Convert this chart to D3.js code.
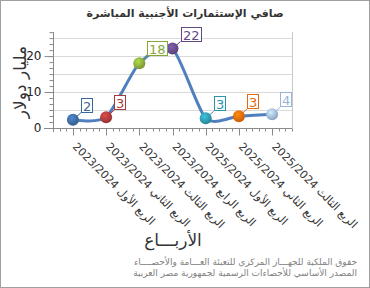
<!DOCTYPE html>
<html>
<head>
<meta charset="utf-8">
<script src="https://cdn.jsdelivr.net/npm/d3@7"></script>
<style>
  body { margin: 0; background: #fff; }
  svg { display: block; font-family: "DejaVu Sans", sans-serif; }
</style>
</head>
<body>
<script>
// data
var quarters = [
  "الربع الأول 2023/2024",
  "الربع الثاني 2023/2024",
  "الربع الثالث 2023/2024",
  "الربع الرابع 2023/2024",
  "الربع الأول 2025/2024",
  "الربع الثاني 2025/2024",
  "الربع الثالث 2025/2024"
];
var values = [2.3, 3.0, 18.0, 22.1, 2.7, 3.3, 3.8];
var valueLabels = ["2", "3", "18", "22", "3", "3", "4"];
var pointColors = ["#3b679c", "#a8393a", "#86a63a", "#634887", "#2c93a8", "#e4690c", "#9bb3d8"];
var yTicks = [0, 10, 20];

var W = 370, H = 288;
var plot = {left: 53, right: 292, top: 32, bottom: 128};

var svg = d3.select("body").append("svg")
    .attr("width", W)
    .attr("height", H);

// outer frame
svg.append("rect")
    .attr("x", 0.5).attr("y", 0.5)
    .attr("width", W - 1).attr("height", H - 1)
    .attr("fill", "#fff")
    .attr("stroke", "#a0a0a0");

var x = d3.scalePoint()
    .domain(d3.range(quarters.length))
    .range([plot.left, plot.right])
    .padding(0.6);

var y = d3.scaleLinear()
    .domain([0, 26.7])
    .range([plot.bottom, plot.top]);

// gridlines every 5
svg.append("g")
    .selectAll("line")
    .data([5, 10, 15, 20, 25])
  .enter().append("line")
    .attr("x1", plot.left).attr("x2", plot.right)
    .attr("y1", function(d) { return Math.round(y(d)) + 0.5; })
    .attr("y2", function(d) { return Math.round(y(d)) + 0.5; })
    .attr("stroke", "#d9d9d9");

// right edge of plot
svg.append("line")
    .attr("x1", plot.right + 0.5).attr("x2", plot.right + 0.5)
    .attr("y1", plot.top).attr("y2", plot.bottom)
    .attr("stroke", "#c8c8c8");

// y axis: minor ticks then major
var yMinor = d3.range(0, 26.7, 5 / 3);
svg.append("g")
    .attr("transform", "translate(" + (plot.left + 0.5) + ",0)")
    .call(d3.axisLeft(y).tickValues(yMinor).tickSize(4).tickFormat(""))
    .call(function(g) {
      g.selectAll("line, path").attr("stroke", "#8a8a8a");
      g.select(".domain").attr("d", "M0," + plot.top + "V" + (plot.bottom + 4));
    });

svg.append("g")
    .attr("transform", "translate(" + (plot.left + 0.5) + ",0)")
    .call(d3.axisLeft(y).tickValues(yTicks).tickSize(9).tickPadding(3))
    .call(function(g) {
      g.select(".domain").remove();
      g.selectAll("line").attr("stroke", "#8a8a8a");
      g.selectAll("text").attr("font-size", 12).attr("fill", "#222")
        .attr("font-family", "DejaVu Sans, sans-serif");
    });

// x axis
var step = x.step();
var xMinor = [];
for (var k = 0; k < quarters.length; k++) {
  for (var m = -2; m <= 2; m++) {
    if (m !== 0) xMinor.push(x(k) + m * step / 5);
  }
}
xMinor.push(x(quarters.length - 1) + 3 * step / 5);

var xAxis = svg.append("g")
    .attr("transform", "translate(0," + (plot.bottom + 0.5) + ")");

xAxis.append("line")
    .attr("x1", plot.left - 9).attr("x2", plot.right)
    .attr("stroke", "#8a8a8a");

xAxis.selectAll(".minor")
    .data(xMinor)
  .enter().append("line")
    .attr("x1", function(d) { return Math.round(d) + 0.5; })
    .attr("x2", function(d) { return Math.round(d) + 0.5; })
    .attr("y2", 3)
    .attr("stroke", "#8a8a8a");

xAxis.selectAll(".major")
    .data(d3.range(quarters.length))
  .enter().append("line")
    .attr("x1", function(d) { return Math.round(x(d)) + 0.5; })
    .attr("x2", function(d) { return Math.round(x(d)) + 0.5; })
    .attr("y2", 7)
    .attr("stroke", "#8a8a8a");

xAxis.selectAll("text")
    .data(quarters)
  .enter().append("text")
    .attr("transform", function(d, i) {
      return "translate(" + (x(i) + 5) + ",13) rotate(45)";
    })
    .attr("dy", "0.75em")
    .attr("font-size", 11)
    .attr("fill", "#333")
    .attr("text-anchor", "start")
    .text(function(d) { return d; });

// marker gradients
var defs = svg.append("defs");
pointColors.forEach(function(c, i) {
  var g = defs.append("radialGradient")
      .attr("id", "ball" + i)
      .attr("cx", "40%").attr("cy", "35%").attr("r", "65%");
  g.append("stop").attr("offset", "0%").attr("stop-color", d3.color(c).brighter(0.8));
  g.append("stop").attr("offset", "100%").attr("stop-color", d3.color(c).darker(0.3));
});

// line
var line = d3.line()
    .x(function(d, i) { return x(i); })
    .y(function(d) { return y(d); })
    .curve(d3.curveCardinal.tension(0.3));

svg.append("path")
    .datum(values)
    .attr("d", line)
    .attr("fill", "none")
    .attr("stroke", "#4f7fbf")
    .attr("stroke-width", 3);

// label leader lines
svg.append("g")
    .selectAll("line")
    .data(values)
  .enter().append("line")
    .attr("x1", function(d, i) { return x(i); })
    .attr("y1", function(d) { return y(d); })
    .attr("x2", function(d, i) { return x(i) + 8; })
    .attr("y2", function(d) { return y(d) - 7; })
    .attr("stroke", function(d, i) { return pointColors[i]; });

// points
svg.append("g")
    .selectAll("circle")
    .data(values)
  .enter().append("circle")
    .attr("cx", function(d, i) { return x(i); })
    .attr("cy", function(d) { return y(d); })
    .attr("r", 6)
    .attr("fill", function(d, i) { return "url(#ball" + i + ")"; });

// value labels in boxes
var labels = svg.append("g")
    .selectAll("g")
    .data(values)
  .enter().append("g")
    .attr("transform", function(d, i) {
      return "translate(" + Math.round(x(i) + 8) + "," + Math.round(y(d) - 7) + ")";
    });

labels.each(function(d, i) {
  var g = d3.select(this);
  var rect = g.append("rect");
  var t = g.append("text")
      .attr("x", 2)
      .attr("y", -2.5)
      .attr("font-size", 13)
      .attr("fill", pointColors[i])
      .text(valueLabels[i]);
  var w = Math.round(t.node().getBBox().width) + 3;
  rect.attr("x", 0.5)
      .attr("y", -14.5)
      .attr("width", w)
      .attr("height", 14)
      .attr("fill", "#fff")
      .attr("stroke", pointColors[i]);
});

// titles
svg.append("text")
    .attr("x", 185).attr("y", 17)
    .attr("text-anchor", "middle")
    .attr("font-size", 11)
    .attr("font-weight", "bold")
    .attr("fill", "#333")
    .text("صافي الإستثمارات الأجنبية المباشرة");

svg.append("text")
    .attr("transform", "translate(26,82) rotate(-90)")
    .attr("text-anchor", "middle")
    .attr("font-size", 17)
    .attr("fill", "#333")
    .text("مليار دولار");

svg.append("text")
    .attr("x", 173).attr("y", 246)
    .attr("text-anchor", "middle")
    .attr("font-size", 17)
    .attr("fill", "#333")
    .text("الأربـــاع");

var notes = [
  "حقوق الملكية للجهـــاز المركزي للتعبئة العـــامة والأحصــــاء",
  "المصدر الأساسي للأحصاءات الرسمية لجمهورية مصر العربية"
];
svg.append("g")
    .selectAll("text")
    .data(notes)
  .enter().append("text")
    .attr("x", 357)
    .attr("y", function(d, i) { return 265 + i * 11; })
    .attr("text-anchor", "end")
    .attr("font-size", 9)
    .attr("fill", "#808080")
    .text(function(d) { return d; });
</script>
</body>
</html>
